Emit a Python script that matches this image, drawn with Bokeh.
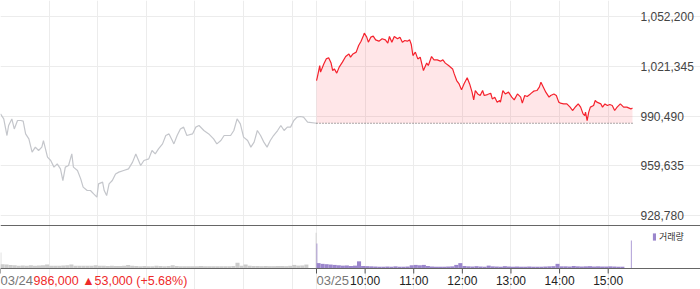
from bokeh.plotting import figure
from bokeh.models import (Range1d, FixedTicker, Span, Legend, LegendItem, Grid)
from bokeh.core.properties import value
from bokeh.embed import file_html
from bokeh.resources import INLINE

# ---------------- data ----------------
prev_close = 986000
price_ticks = [928780, 959635, 990490, 1021345, 1052200]

d1_times = ["09:00", "09:04", "09:08", "09:10", "09:14", "09:17", "09:21", "09:25", "09:28", "09:31",
            "09:35", "09:39", "09:43", "09:47", "09:51", "09:53", "09:58", "10:02", "10:06", "10:10",
            "10:14", "10:17", "10:20", "10:24", "10:28", "10:30", "10:35", "10:39", "10:42", "10:47",
            "10:51", "10:55", "10:59", "11:01", "11:06", "11:08", "11:11", "11:14", "11:18", "11:22",
            "11:26", "11:32", "11:38", "11:43", "11:47", "11:53", "11:57", "12:03", "12:07", "12:11",
            "12:15", "12:20", "12:24", "12:28", "12:32", "12:34", "12:38", "12:42", "12:46", "12:50",
            "12:57", "13:01", "13:05", "13:11", "13:17", "13:23", "13:27", "13:32", "13:36", "13:44",
            "13:48", "13:52", "13:56", "14:00", "14:05", "14:09", "14:13", "14:17", "14:21", "14:25",
            "14:29", "14:33", "14:37", "14:42", "14:46", "14:50", "14:54", "14:58", "15:02", "15:06",
            "15:10", "15:14", "15:19", "15:30"]
d1_price = [991800, 988700, 978400, 984600, 988700, 982500, 987700, 987700, 987300, 979400,
            976300, 968100, 971200, 969100, 971200, 975300, 965000, 962900, 958800, 960800,
            957700, 950500, 958800, 959800, 967000, 958800, 956700, 951500, 946400, 944300,
            944300, 942200, 940200, 948400, 949500, 944300, 941200, 948400, 950500, 954600,
            955700, 956700, 957700, 961900, 967000, 959800, 962900, 963900, 969100, 967000,
            970100, 973200, 978400, 979400, 975300, 973200, 978400, 982500, 983600, 978400,
            979400, 983600, 984600, 981500, 979400, 976300, 973200, 975300, 978400, 978400,
            981500, 988700, 985600, 977400, 975300, 971200, 974300, 981500, 978400, 974300,
            971200, 975300, 978400, 981500, 984600, 981500, 983600, 983600, 987700, 989800,
            990200, 989800, 986700, 986000]

d2_times = ["09:00", "09:01", "09:04", "09:05", "09:09", "09:12", "09:15", "09:18", "09:20", "09:22",
            "09:25", "09:28", "09:32", "09:36", "09:40", "09:42", "09:45", "09:49", "09:52", "09:55",
            "09:58", "09:59", "10:02", "10:04", "10:07", "10:10", "10:13", "10:17", "10:21", "10:25",
            "10:28", "10:30", "10:33", "10:36", "10:40", "10:43", "10:46", "10:49", "10:52", "10:55",
            "10:57", "10:59", "11:02", "11:05", "11:08", "11:10", "11:12", "11:16", "11:18", "11:22",
            "11:25", "11:29", "11:33", "11:36", "11:39", "11:43", "11:48", "11:50", "11:53", "11:56",
            "11:59", "12:02", "12:06", "12:09", "12:12", "12:14", "12:16", "12:19", "12:22", "12:25",
            "12:27", "12:31", "12:35", "12:37", "12:40", "12:43", "12:46", "12:47", "12:50", "12:53",
            "12:57", "13:01", "13:04", "13:08", "13:12", "13:14", "13:17", "13:20", "13:24", "13:28",
            "13:32", "13:35", "13:37", "13:40", "13:43", "13:47", "13:49", "13:53", "13:56", "13:59",
            "14:01", "14:05", "14:09", "14:13", "14:16", "14:20", "14:23", "14:26", "14:29", "14:31",
            "14:32", "14:34", "14:36", "14:38", "14:42", "14:44", "14:46", "14:51", "14:53", "14:56",
            "14:59", "15:02", "15:05", "15:08", "15:11", "15:15", "15:19", "15:23", "15:28", "15:30"]
d2_price = [1012500, 1014500, 1021800, 1017700, 1022800, 1025900, 1026600, 1023300, 1018700, 1019700,
            1017100, 1020800, 1023900, 1027400, 1029000, 1027000, 1029000, 1030100, 1034200, 1036900,
            1040400, 1041900, 1039400, 1036300, 1039400, 1040000, 1037700, 1036900, 1038400, 1037700,
            1035700, 1039800, 1036300, 1039800, 1038400, 1039400, 1036300, 1037300, 1036900, 1037700,
            1034800, 1028000, 1030100, 1025900, 1027000, 1022800, 1018700, 1023300, 1021800, 1027400,
            1025300, 1025300, 1024500, 1025300, 1023300, 1021800, 1019700, 1016600, 1012500, 1010400,
            1006700, 1010400, 1014200, 1010400, 1005300, 1000500, 1006300, 1004200, 1003200, 1006300,
            1003200, 1003800, 1004600, 1001100, 1002200, 999100, 1000100, 999100, 1006300, 1004200,
            1005300, 1002200, 1000500, 1004200, 1002200, 998500, 1003200, 1002600, 1004200, 1005900,
            1006300, 1008400, 1011500, 1008400, 1005300, 1002200, 1003200, 1004200, 1003200, 999100,
            998500, 998000, 998000, 996000, 993900, 996400, 998000, 996000, 991800, 990800,
            992900, 987700, 992900, 996000, 997000, 1000100, 999100, 998000, 996000, 998000,
            997000, 997600, 997000, 993900, 996000, 998000, 996000, 996000, 994900, 995500]

# volume: 5-minute bins starting 09:00 (continuous session), plus auction prints
d1_vol = [12000, 11000, 10000, 9000, 8000, 8500, 8000, 9000, 8000, 8500,
          9000, 11000, 8000, 8000, 7500, 8500, 9000, 11000, 8000, 7500,
          8000, 7500, 8000, 9000, 8000, 7500, 7000, 7500, 7000, 7000,
          7500, 9500, 7500, 7000, 6500, 7000, 6500, 6500, 7500, 7000,
          6500, 7000, 9000, 7000, 6500, 6000, 6500, 6000, 6500, 7000,
          6000, 6500, 6000, 6500, 6000, 6500, 6000, 7000, 16000, 8000,
          11000, 7500, 7000, 7000, 6500, 7000, 6500, 6500, 7000, 7000,
          6500, 7500, 10000, 8000, 8500, 11000]
d2_vol = [15000, 13000, 12000, 11000, 10000, 9000, 8000, 8500, 7000, 8000,
          20000, 7000, 6500, 6000, 5500, 5000, 5000, 5500, 5000, 6000,
          5000, 5000, 5500, 9000, 10000, 9000, 10000, 7000, 5500, 5000,
          5000, 5000, 5500, 6000, 10000, 15000, 7000, 6000, 5500, 6500,
          5500, 5000, 8000, 6000, 5500, 5000, 6500, 5500, 5000, 5500,
          5000, 5000, 5500, 5000, 5000, 5000, 5500, 6000, 6500, 13000,
          6000, 6000, 5500, 7000, 6000, 5500, 6000, 6500, 5500, 6000,
          5500, 5500, 6000, 5500, 5000, 5000]
auction_times = ["09:00", "15:30"]
d1_auction_vol = [45000, 100000]
d2_auction_vol = [70000, 78000]

x_tick_times = ["09:00", "10:00", "11:00", "12:00", "13:00", "14:00", "15:00"]
date_labels = ["03/24", "03/25"]
change_text = "986,000 \u25b253,000 (+5.68%)"
volume_label = "거래량"

# ---------------- helpers ----------------
SESSION = 390  # minutes per session 09:00-15:30


def to_min(t, day):
    h, m = t.split(":")
    return day * SESSION + (int(h) - 9) * 60 + int(m)


d1_x = [to_min(t, 0) for t in d1_times]
d2_x = [to_min(t, 1) for t in d2_times]
total = 2 * SESSION

FONT = "Liberation Sans"
GRID = "#ececec"

# layout geometry (pixels)
W, H = 700, 289
TOP, PRICE_H, VOL_H = 16, 209, 43
AXIS_H = H - TOP - PRICE_H - VOL_H     # band under the volume panel for tick labels
PLOT_W = 632                            # width of the time area; right of it sit the price labels

price_step = price_ticks[1] - price_ticks[0]
price_lo = price_ticks[0] - 0.2 * price_step      # bottom of the price panel
price_hi = price_ticks[-1]
per_px = (price_hi - price_lo) / PRICE_H
vol_top = 120000                                   # top of the volume panel
vol_per_px = vol_top / VOL_H

p = figure(width=W, height=H,
           x_range=Range1d(0, total * W / PLOT_W),
           y_range=Range1d(price_hi - (H - TOP) * per_px, price_hi + TOP * per_px),
           output_backend="svg", toolbar_location=None,
           x_axis_location=None, y_axis_location=None,
           min_border_left=0, min_border_right=0, min_border_top=0, min_border_bottom=0)
p.extra_y_ranges = {"vol": Range1d(-AXIS_H * vol_per_px, vol_top + (TOP + PRICE_H) * vol_per_px)}
p.outline_line_color = None
p.background_fill_color = "white"
p.border_fill_color = "white"
p.xgrid.visible = False
p.ygrid.visible = False

# grids
grid_ticks = [to_min(t, day) for day in (0, 1) for t in x_tick_times]
p.add_layout(Grid(dimension=0, ticker=FixedTicker(ticks=grid_ticks), bounds=(price_lo, price_hi),
                  grid_line_color=GRID, grid_line_width=1))
p.add_layout(Grid(dimension=1, ticker=FixedTicker(ticks=price_ticks), bounds=(0, total),
                  grid_line_color=GRID, grid_line_width=1))

# price lines
p.line(d1_x, d1_price, line_color="#c4c6cb", line_width=1.2)
p.varea(x=d2_x, y1=prev_close, y2=d2_price, fill_color="#ff3344", fill_alpha=0.12)
p.segment(x0=[d2_x[0]], y0=[prev_close], x1=[d2_x[-1]], y1=[prev_close],
          line_color="#555555", line_dash="1 2", line_width=1)
p.line(d2_x, d2_price, line_color="#f5222d", line_width=1.2)

# price labels on the right
p.text(x=[total] * len(price_ticks), y=price_ticks, text=[f"{v:,}" for v in price_ticks],
       x_offset=8, text_align="left", text_baseline="middle", text_font=value(FONT),
       text_font_size="12px", text_color="#444444")

# panel separator and axis line
p.add_layout(Span(location=price_lo, dimension="width", line_color="#666666", line_width=1))
p.add_layout(Span(location=0, dimension="width", line_color="#666666", line_width=1,
                  y_range_name="vol"))

# volume bars
GRAY_BAR = "#cccccc"
PURPLE = "#9b86cc"
bin_x1 = [5 * i + 2.5 for i in range(len(d1_vol))]
bin_x2 = [SESSION + 5 * i + 2.5 for i in range(len(d2_vol))]
p.vbar(x=bin_x1, top=d1_vol, width=5, fill_color=GRAY_BAR, line_color=None, y_range_name="vol")
vr = p.vbar(x=bin_x2, top=d2_vol, width=5, fill_color=PURPLE, line_color=None, y_range_name="vol")
a1 = [to_min(auction_times[0], 0) + 0.5, to_min(auction_times[1], 0) - 0.5]
a2 = [to_min(auction_times[0], 1) + 0.5, to_min(auction_times[1], 1) - 1.5]
p.vbar(x=a1, top=d1_auction_vol, width=1, fill_color=GRAY_BAR, line_color=None, y_range_name="vol")
p.vbar(x=a2, top=d2_auction_vol, width=1, fill_color=PURPLE, line_color=None, y_range_name="vol")

# time axis: ticks and labels under the volume panel
axis_ticks = [0, SESSION] + [to_min(t, 1) for t in x_tick_times[1:]]
p.segment(x0=axis_ticks, y0=0, x1=axis_ticks, y1=-5 * vol_per_px, y_range_name="vol",
          line_color="#555555", line_width=1)
label_y = -12 * vol_per_px
p.text(x=[to_min(t, 1) for t in x_tick_times[1:]], y=label_y, text=x_tick_times[1:],
       y_range_name="vol", text_align="center", text_baseline="middle",
       text_font=value(FONT), text_font_size="12px", text_color="#222222")
p.text(x=[day * SESSION for day in range(len(date_labels))], y=label_y, text=date_labels,
       y_range_name="vol", text_align="left", text_baseline="middle",
       text_font=value(FONT), text_font_size="13px", text_color="#777777")
p.text(x=[0], y=label_y, text=[change_text], x_offset=33, y_range_name="vol",
       text_align="left", text_baseline="middle",
       text_font=value(FONT), text_font_size="12.5px", text_color="#ee2a2a")

legend = Legend(items=[LegendItem(label=volume_label, renderers=[vr])],
                location=(652, 46), orientation="horizontal",
                glyph_width=4, glyph_height=9, label_standoff=3,
                label_text_font="Noto Sans CJK KR", label_text_font_size="9px",
                label_text_color="#333333", label_height=9,
                background_fill_alpha=0, border_line_color=None, padding=0, margin=0)
p.add_layout(legend)

open("out.html", "w").write(file_html(p, INLINE))
